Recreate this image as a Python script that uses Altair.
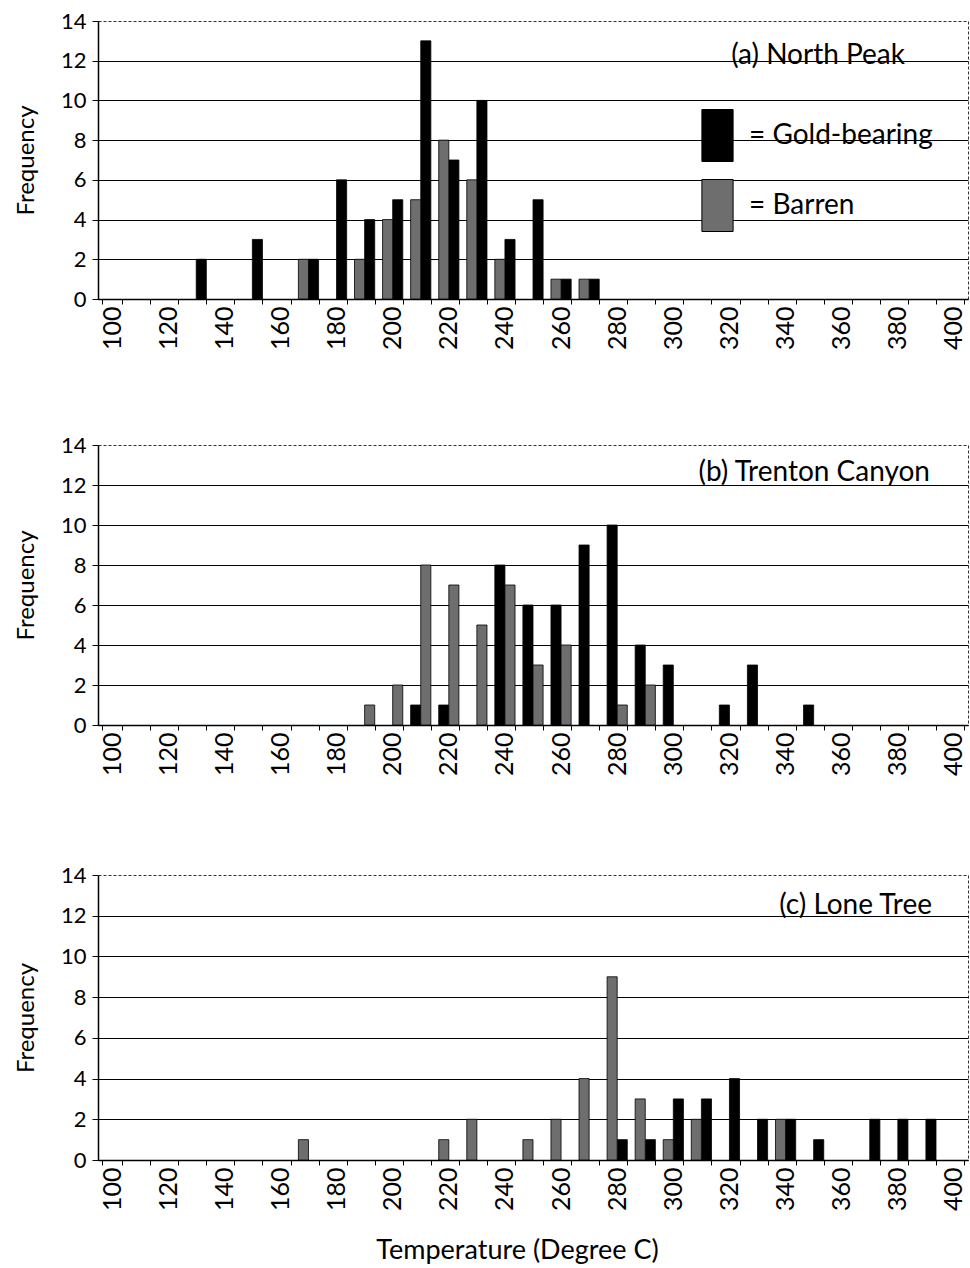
import altair as alt
import pandas as pd

# ---- data ----
temps = list(range(100, 410, 10))          # x categories (Degree C)
y_ticks = [0, 2, 4, 6, 8, 10, 12, 14]

a_gold_t = [130, 150, 170, 180, 190, 200, 210, 220, 230, 240, 250, 260, 270]
a_gold_n = [2, 3, 2, 6, 4, 5, 13, 7, 10, 3, 5, 1, 1]
a_barren_t = [170, 190, 200, 210, 220, 230, 240, 260, 270]
a_barren_n = [2, 2, 4, 5, 8, 6, 2, 1, 1]

b_gold_t = [210, 220, 240, 250, 260, 270, 280, 290, 300, 320, 330, 350]
b_gold_n = [1, 1, 8, 6, 6, 9, 10, 4, 3, 1, 3, 1]
b_barren_t = [190, 200, 210, 220, 230, 240, 250, 260, 280, 290]
b_barren_n = [1, 2, 8, 7, 5, 7, 3, 4, 1, 2]

c_gold_t = [280, 290, 300, 310, 320, 330, 340, 350, 370, 380, 390]
c_gold_n = [1, 1, 3, 3, 4, 2, 2, 1, 2, 2, 2]
c_barren_t = [170, 220, 230, 250, 260, 270, 280, 290, 300, 310, 340]
c_barren_n = [1, 1, 2, 1, 2, 4, 9, 3, 1, 2, 2]

series = ["Gold-bearing", "Barren"]
series_colors = ["#000000", "#6e6e6e"]
panel_titles = ["(a) North Peak", "(b) Trenton Canyon", "(c) Lone Tree"]

FONT = "Lato"


def panel(gt, gn, bt, bn, title, order, height, title_pos, last=False, legend=False):
    df = pd.DataFrame({
        "Temp": gt + bt,
        "Count": gn + bn,
        "Series": [series[0]] * len(gt) + [series[1]] * len(bt),
    })
    x_kwargs = dict(
        labelExpr="datum.value % 20 == 0 ? datum.label : ''",
        labelAngle=270, labelAlign="right", labelBaseline="middle",
        labelFontSize=25, labelFont=FONT, labelColor="black", labelPadding=2,
        tickBand="extent", tickSize=5, tickColor="black", tickWidth=1,
        domainColor="black", domainWidth=1.5, grid=False,
    )
    if last:
        x_kwargs.update(titleFontSize=27, titleFont=FONT, titleFontWeight="normal",
                        titleColor="black", titlePadding=27, titleX=419)
    x_enc = alt.X(
        "Temp:O",
        scale=alt.Scale(domain=temps, paddingInner=0.28, paddingOuter=0.14),
        axis=alt.Axis(**x_kwargs),
        title="Temperature (Degree C)" if last else None,
    )
    y_enc = alt.Y(
        "Count:Q",
        scale=alt.Scale(domain=[0, 14], nice=False),
        axis=alt.Axis(
            values=y_ticks, labelFontSize=22, labelFont=FONT, labelColor="black",
            labelPadding=6, tickSize=6, tickColor="black", domainColor="black",
            domainWidth=1.5, gridColor="black", gridWidth=1.2,
            gridOpacity={"condition": {"test": "datum.value == 14", "value": 0}, "value": 1},
            titleFontSize=24, titleFont=FONT, titleFontWeight="normal",
            titleColor="black", titlePadding=22,
        ),
        title="Frequency",
    )
    if legend:
        leg = alt.Legend(
            orient="none", legendX=593, legendY=88, title=None,
            symbolType="M-0.6,-1H0.6V1H-0.6Z", symbolSize=2704,
            symbolStrokeColor="black", symbolStrokeWidth=1, symbolOpacity=1,
            labelExpr="'= ' + datum.label", labelFontSize=28, labelFont=FONT,
            labelColor="black", labelOffset=5, labelLimit=0, rowPadding=13, padding=0,
        )
    else:
        leg = None
    bars = alt.Chart(df).mark_bar(stroke="black", strokeWidth=0.8, opacity=1).encode(
        x=x_enc,
        xOffset=alt.XOffset("Series:N", scale=alt.Scale(domain=order, paddingInner=0, paddingOuter=0)),
        y=y_enc,
        color=alt.Color("Series:N", scale=alt.Scale(domain=series, range=series_colors), legend=leg),
    )
    label = alt.Chart(pd.DataFrame({"t": [title]})).mark_text(
        align="right", baseline="middle", fontSize=28, font=FONT, color="black"
    ).encode(text="t:N", x=alt.value(title_pos[0]), y=alt.value(title_pos[1]))
    return alt.layer(bars, label).properties(width=870, height=height)


pa = panel(a_gold_t, a_gold_n, a_barren_t, a_barren_n, panel_titles[0],
           ["Barren", "Gold-bearing"], 278, (807, 35), legend=True)
pb = panel(b_gold_t, b_gold_n, b_barren_t, b_barren_n, panel_titles[1],
           ["Gold-bearing", "Barren"], 280, (832, 28))
pc = panel(c_gold_t, c_gold_n, c_barren_t, c_barren_n, panel_titles[2],
           ["Barren", "Gold-bearing"], 285, (834, 31), last=True)

top_two = alt.vconcat(pa, pb, spacing=82).resolve_scale(
    color="independent", xOffset="independent"
)
chart = alt.vconcat(top_two, pc, spacing=86).resolve_scale(
    color="independent", xOffset="independent"
).properties(
    padding={"left": 13, "top": 9, "right": 0, "bottom": 0},
    background="white",
).configure_view(
    stroke="#333333", strokeDash=[3, 2], strokeWidth=1
)

chart.save("out.html", embed_options={"renderer": "svg", "actions": False})
